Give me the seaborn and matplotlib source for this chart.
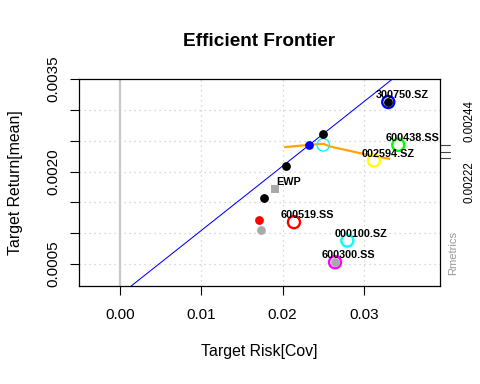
import numpy as np
import pandas as pd
import matplotlib
matplotlib.use("Agg")
import matplotlib.pyplot as plt
import matplotlib.transforms as mtransforms
import seaborn as sns

# efficient frontier points (risk = cov, return = mean)
frontier_risk = [0.01775, 0.0204, 0.0250, 0.0330]
frontier_ret = [0.001568, 0.002097, 0.002607, 0.003127]

# inefficient part of the frontier
lower_risk = [0.0173, 0.02645]
lower_ret = [0.001054, 0.000529]

minvar_risk, minvar_ret = 0.01713, 0.001216
tangency_risk, tangency_ret = 0.0233, 0.002433
riskfree = 0.0
ewp_risk, ewp_ret = 0.01907, 0.001719

assets = ["600519.SS", "002594.SZ", "600438.SS", "000100.SZ", "300750.SZ", "600300.SS"]
asset_risk = [0.0214, 0.03124, 0.03423, 0.02796, 0.0330, 0.02645]
asset_ret = [0.001179, 0.002179, 0.002433, 0.000880, 0.003127, 0.000529]
asset_cols = ["#FF0000", "#FFFF00", "#00FF00", "#00FFFF", "#0000FF", "#FF00FF"]

# sharpe ratio curve (scaled onto return axis)
sharpe_risk = [0.0203, 0.02328, 0.02501, 0.02583, 0.02952, 0.03312]
sharpe_ret = [0.002396, 0.002433, 0.002450, 0.002406, 0.002299, 0.002206]
sharpe_max_risk, sharpe_max_ret = 0.0250, 0.002433

right_ticks = [0.002433, 0.002320, 0.002222]
right_labels = ["0.00244", "0.00222"]
right_label_pos = [0.00282, 0.00183]

xticks = [0.00, 0.01, 0.02, 0.03]
yticks = [0.0005, 0.0010, 0.0015, 0.0020, 0.0025, 0.0030, 0.0035]
ylabels_shown = ["0.0005", "", "", "0.0020", "", "", "0.0035"]

sns.set_theme(style="white")
plt.rcParams["font.family"] = ["Liberation Sans", "DejaVu Sans"]

fig = plt.figure(figsize=(4.8, 3.84), dpi=100)
ax = fig.add_axes([0.1646, 0.2552, 0.752, 0.539])
ax.set_xlim(-0.00504, 0.03936)
ax.set_ylim(0.000144, 0.0035)

# grid
for xv in xticks[1:]:
    ax.axvline(xv, color="#cccccc", ls=(0, (1, 3)), lw=0.9, zorder=0)
for yv in yticks[:-1]:
    ax.axhline(yv, color="#cccccc", ls=(0, (1, 3)), lw=0.9, zorder=0)
ax.axvline(0, color="#c8c8c8", lw=1.6, zorder=0)

# capital market line through risk free and tangency portfolio
ax.axline((0, riskfree), (tangency_risk, tangency_ret), color="#0000FF", lw=0.75, zorder=1)

# sharpe ratio line
sdf = pd.DataFrame({"risk": sharpe_risk, "ret": sharpe_ret})
sns.lineplot(data=sdf, x="risk", y="ret", ax=ax, color="#FFA500", lw=1.6, zorder=2, sort=False)

# assets
adf = pd.DataFrame({"risk": asset_risk, "ret": asset_ret, "asset": assets})
sns.scatterplot(data=adf, x="risk", y="ret", hue="asset", palette=dict(zip(assets, asset_cols)),
                ax=ax, s=75, facecolor="none", linewidth=1.7, legend=False, zorder=3)
# scatterplot with hue overrides facecolor, so redo edge colors
coll = ax.collections[-1]
coll.set_facecolor("none")
coll.set_edgecolor(asset_cols)

sns.scatterplot(x=[sharpe_max_risk], y=[sharpe_max_ret], ax=ax, s=80, marker="o",
                facecolor="none", edgecolor="#00FFFF", linewidth=1.0, zorder=3)

# frontier
sns.scatterplot(x=frontier_risk, y=frontier_ret, ax=ax, s=40, color="black", linewidth=0, zorder=4)
sns.scatterplot(x=lower_risk, y=lower_ret, ax=ax, s=40, color="#A9A9A9", linewidth=0, zorder=4)
sns.scatterplot(x=[minvar_risk], y=[minvar_ret], ax=ax, s=40, color="#FF0000", linewidth=0, zorder=4)
sns.scatterplot(x=[tangency_risk], y=[tangency_ret], ax=ax, s=40, color="#0000FF", linewidth=0, zorder=4)
sns.scatterplot(x=[ewp_risk], y=[ewp_ret], ax=ax, s=30, marker="s", color="#A9A9A9", linewidth=0, zorder=4)

# labels
for name, xr, yr in zip(assets + ["EWP"], asset_risk + [ewp_risk], asset_ret + [ewp_ret]):
    ax.annotate(name, (xr, yr), xytext=(10, 5), textcoords="offset points",
                ha="center", va="center", fontsize=7.8, fontweight="bold", color="black", zorder=5)

ax.set_xticks(xticks)
ax.set_xticklabels([f"{v:.2f}" for v in xticks])
ax.set_yticks(yticks)
ax.set_yticklabels(ylabels_shown, rotation=90, va="center")
ax.tick_params(axis="both", direction="out", length=6.5, width=0.8, color="black",
               labelsize=11, pad=7, labelcolor="black", bottom=True, left=True)
ax.tick_params(axis="x", pad=9)
for sp in ax.spines.values():
    sp.set_color("black")
    sp.set_linewidth(0.9)

ax.set_xlabel("Target Risk[Cov]", fontsize=11.4, color="black")
ax.set_ylabel("Target Return[mean]", fontsize=11.4, color="black")
ax.xaxis.set_label_coords(0.5, -0.28)
ax.yaxis.set_label_coords(-0.155, 0.5)

fig.text(0.5406, 1 - 41 / 384, "Efficient Frontier", ha="center", va="center",
         fontsize=13.7, fontweight="bold", color="black")

# right side sharpe axis marks
trans = mtransforms.blended_transform_factory(ax.transAxes, ax.transData)
for yv in right_ticks:
    ax.plot([1.0, 1.027], [yv, yv], transform=trans, color="#444444", lw=0.8, clip_on=False)
for lab, yv in zip(right_labels, right_label_pos):
    ax.text(1.083, yv, lab, transform=trans, rotation=90, ha="center", va="center",
            fontsize=8.3, color="black")
ax.text(1.036, 0.159, "Rmetrics", transform=ax.transAxes, rotation=90, ha="center",
        va="center", fontsize=8, color="#999999")

fig.savefig("out.png", dpi=100)
